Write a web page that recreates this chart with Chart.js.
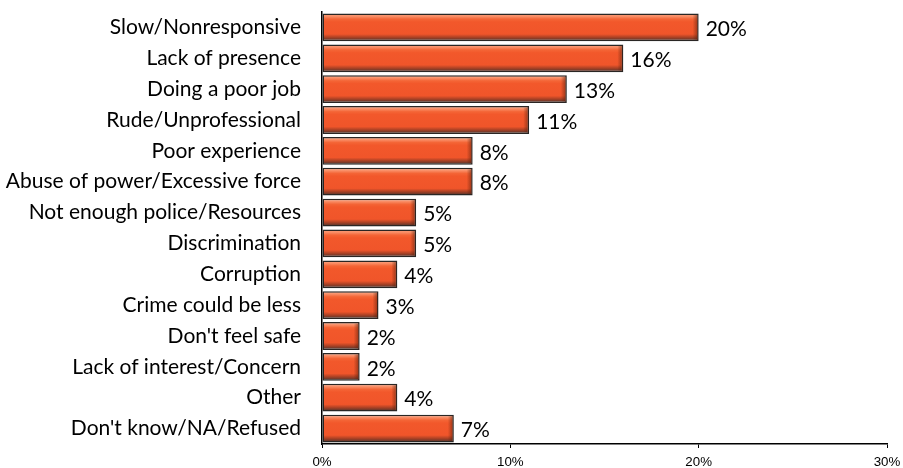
<!DOCTYPE html>
<html>
<head>
<meta charset="utf-8">
<script src="https://cdn.jsdelivr.net/npm/chart.js@4/dist/chart.umd.min.js"></script>
<style>
    html, body { margin: 0; padding: 0; background: #fff; }
    #wrap { width: 903px; height: 468px; }
</style>
</head>
<body>
<div id="wrap"><canvas id="grafica"></canvas></div>
<script>
const categorias = [
    'Slow/Nonresponsive',
    'Lack of presence',
    'Doing a poor job',
    'Rude/Unprofessional',
    'Poor experience',
    'Abuse of power/Excessive force',
    'Not enough police/Resources',
    'Discrimination',
    'Corruption',
    'Crime could be less',
    "Don't feel safe",
    'Lack of interest/Concern',
    'Other',
    "Don't know/NA/Refused"
];
const valores = [20, 16, 13, 11, 8, 8, 5, 5, 4, 3, 2, 2, 4, 7];
const ticksEje = [0, 10, 20, 30];

const fuenteTexto = 'Lato, "Open Sans", sans-serif';

// relleno con brillo arriba y sombra abajo para cada barra
function rellenoBarra(context) {
    const chart = context.chart;
    const el = context.element;
    if (!el || el.y === undefined || el.height === undefined) {
        return '#F25A2C';
    }
    const top = el.y - el.height / 2;
    const g = chart.ctx.createLinearGradient(0, top, 0, top + el.height);
    g.addColorStop(0, '#F67C50');
    g.addColorStop(0.08, '#FA9670');
    g.addColorStop(0.2, '#F46536');
    g.addColorStop(0.3, '#F2582B');
    g.addColorStop(0.74, '#F0552A');
    g.addColorStop(0.86, '#A84024');
    g.addColorStop(1, '#3E3330');
    return g;
}

// sombreado en el extremo derecho y etiquetas de porcentaje
const etiquetasValor = {
    id: 'etiquetasValor',
    afterDatasetsDraw(chart) {
        const ctx = chart.ctx;
        const meta = chart.getDatasetMeta(0);
        ctx.save();
        meta.data.forEach(function (barra) {
            const p = barra.getProps(['x', 'y', 'height'], true);
            const top = p.y - p.height / 2 + 1.5;
            const alto = p.height - 3;
            const g = ctx.createLinearGradient(p.x - 6, 0, p.x - 1, 0);
            g.addColorStop(0, 'rgba(90,30,10,0)');
            g.addColorStop(1, 'rgba(90,30,10,0.55)');
            ctx.fillStyle = g;
            ctx.fillRect(p.x - 6, top, 5, alto);
        });
        ctx.font = '21px ' + fuenteTexto;
        ctx.fillStyle = '#000';
        ctx.textAlign = 'left';
        ctx.textBaseline = 'middle';
        meta.data.forEach(function (barra, i) {
            const p = barra.getProps(['x', 'y'], true);
            ctx.fillText(valores[i] + '%', p.x + 7, p.y + 2);
        });
        ctx.restore();
    }
};

const grafica = new Chart(document.getElementById('grafica'), {
    type: 'bar',
    data: {
        labels: categorias,
        datasets: [{
            data: valores,
            backgroundColor: rellenoBarra,
            borderColor: '#2A2624',
            borderWidth: 1.5,
            borderSkipped: false,
            barPercentage: 0.9,
            categoryPercentage: 1
        }]
    },
    options: {
        indexAxis: 'y',
        responsive: true,
        maintainAspectRatio: false,
        animation: false,
        layout: {
            padding: { top: 12, right: 16, bottom: 0, left: 0 }
        },
        plugins: {
            legend: { display: false },
            tooltip: { enabled: false }
        },
        scales: {
            x: {
                min: 0,
                max: 30,
                afterBuildTicks: function (eje) {
                    eje.ticks = ticksEje.map(function (v) { return { value: v }; });
                },
                afterFit: function (eje) {
                    eje.height = 24;
                    eje.paddingLeft = 0;
                    eje.paddingRight = 0;
                },
                grid: {
                    display: true,
                    drawOnChartArea: false,
                    drawTicks: true,
                    tickLength: 4,
                    color: '#000'
                },
                border: { display: true, color: '#000', width: 1.5 },
                ticks: {
                    color: '#000',
                    padding: 6,
                    maxRotation: 0,
                    font: { family: 'Arial, "Liberation Sans", sans-serif', size: 13.3 },
                    callback: function (v) { return v + '%'; }
                }
            },
            y: {
                afterFit: function (eje) {
                    eje.width = 322;
                    eje.paddingTop = 0;
                    eje.paddingBottom = 0;
                },
                grid: { display: false, drawTicks: false },
                border: { display: true, color: '#000', width: 1.5 },
                ticks: {
                    color: '#000',
                    padding: 21,
                    autoSkip: false,
                    font: { family: fuenteTexto, size: 21 }
                }
            }
        }
    },
    plugins: [etiquetasValor]
});

// segunda pasada para que el degradado use la posición de cada barra
grafica.update();
</script>
</body>
</html>
